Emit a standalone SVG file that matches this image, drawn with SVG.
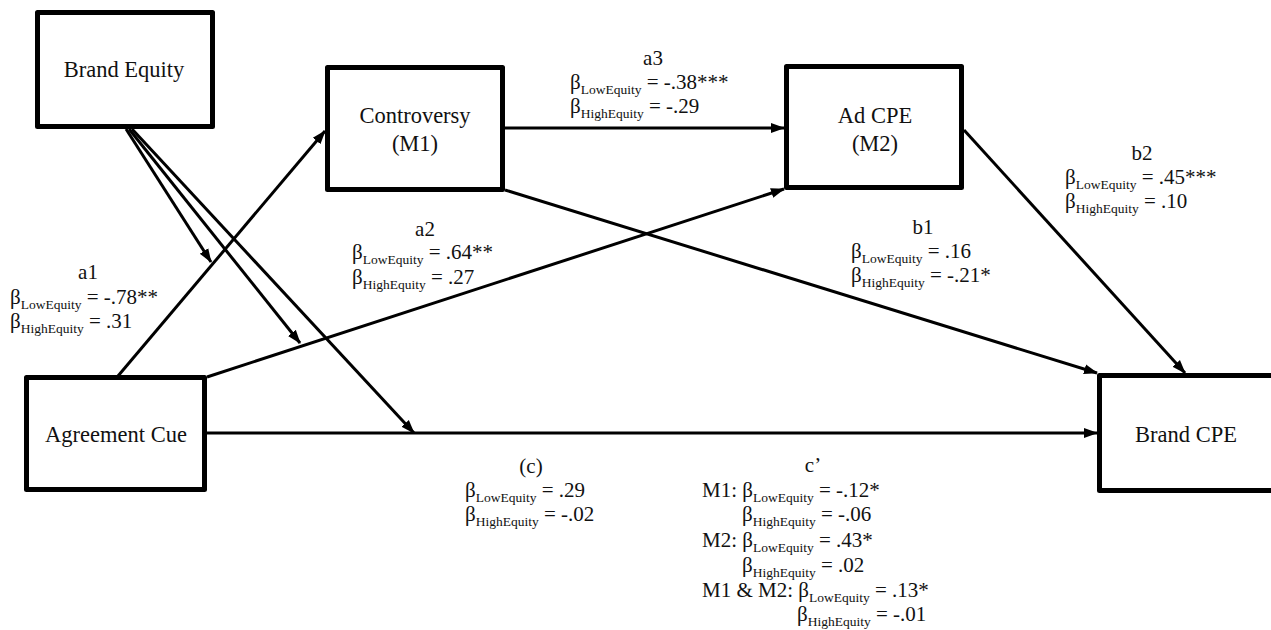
<svg xmlns="http://www.w3.org/2000/svg" width="1271" height="630" viewBox="0 0 1271 630">
<defs>
<marker id="arr" markerUnits="userSpaceOnUse" markerWidth="14" markerHeight="12" viewBox="0 0 14 12" refX="13" refY="6" orient="auto">
<path d="M0,1 L14,6 L0,11 z" fill="#000"/>
</marker>
<style>
.box{fill:#fff;stroke:#000;stroke-width:5;stroke-linejoin:round}
.bt{font-family:"Liberation Serif","Times New Roman",serif;font-size:22.5px;fill:#111;text-anchor:middle}
.con line{stroke:#000;stroke-width:3;marker-end:url(#arr)}
.lb{font-family:"Liberation Serif","Times New Roman",serif;font-size:21px;fill:#111}
.tt{text-anchor:middle}
.s{font-size:13.5px}
</style>
</defs>
<rect width="1271" height="630" fill="#fff"/>
<g class="con" id="connectors">
<line x1="118" y1="376" x2="325" y2="131"/>
<line x1="207" y1="377" x2="784" y2="189"/>
<line x1="505" y1="128" x2="784" y2="128"/>
<line x1="505" y1="190" x2="1097" y2="373"/>
<line x1="964" y1="130" x2="1185" y2="373"/>
<line x1="207" y1="433" x2="1097" y2="433"/>
<line x1="126" y1="129" x2="211" y2="262"/>
<line x1="129" y1="129" x2="300" y2="343"/>
<line x1="132" y1="129" x2="414" y2="433"/>
</g>
<g id="brand-equity">
<rect class="box" x="37.5" y="12.5" width="175" height="114"/>
<text class="bt" x="124" y="77">Brand Equity</text>
</g>
<g id="controversy">
<rect class="box" x="327.5" y="67.5" width="175" height="122"/>
<text class="bt" x="415" y="123">Controversy</text>
<text class="bt" x="415" y="151">(M1)</text>
</g>
<g id="ad-cpe">
<rect class="box" x="786.5" y="66.5" width="175" height="121"/>
<text class="bt" x="875" y="123">Ad CPE</text>
<text class="bt" x="875" y="151">(M2)</text>
</g>
<g id="agreement-cue">
<rect class="box" x="26.5" y="377.5" width="178" height="112"/>
<text class="bt" x="116" y="442">Agreement Cue</text>
</g>
<g id="brand-cpe">
<rect class="box" x="1099.5" y="375.5" width="200" height="115"/>
<text class="bt" x="1186" y="442">Brand CPE</text>
</g>
<g id="labels" class="lb">
<text class="tt" x="88" y="279">a1</text>
<text x="10" y="304">β<tspan class="s" dy="5">LowEquity</tspan><tspan dy="-5"> = -.78**</tspan></text>
<text x="10" y="328">β<tspan class="s" dy="5">HighEquity</tspan><tspan dy="-5"> = .31</tspan></text>

<text class="tt" x="425" y="236">a2</text>
<text x="352" y="259">β<tspan class="s" dy="5">LowEquity</tspan><tspan dy="-5"> = .64**</tspan></text>
<text x="352" y="284">β<tspan class="s" dy="5">HighEquity</tspan><tspan dy="-5"> = .27</tspan></text>

<text class="tt" x="653" y="65">a3</text>
<text x="570" y="89">β<tspan class="s" dy="5">LowEquity</tspan><tspan dy="-5"> = -.38***</tspan></text>
<text x="570" y="113">β<tspan class="s" dy="5">HighEquity</tspan><tspan dy="-5"> = -.29</tspan></text>

<text class="tt" x="923" y="234">b1</text>
<text x="851" y="258">β<tspan class="s" dy="5">LowEquity</tspan><tspan dy="-5"> = .16</tspan></text>
<text x="851" y="282">β<tspan class="s" dy="5">HighEquity</tspan><tspan dy="-5"> = -.21*</tspan></text>

<text class="tt" x="1142" y="160">b2</text>
<text x="1065" y="184">β<tspan class="s" dy="5">LowEquity</tspan><tspan dy="-5"> = .45***</tspan></text>
<text x="1065" y="208">β<tspan class="s" dy="5">HighEquity</tspan><tspan dy="-5"> = .10</tspan></text>

<text class="tt" x="531" y="473">(c)</text>
<text x="465" y="497">β<tspan class="s" dy="5">LowEquity</tspan><tspan dy="-5"> = .29</tspan></text>
<text x="465" y="521">β<tspan class="s" dy="5">HighEquity</tspan><tspan dy="-5"> = -.02</tspan></text>

<text class="tt" x="813" y="472">c’</text>
<text x="702" y="497">M1: β<tspan class="s" dy="5">LowEquity</tspan><tspan dy="-5"> = -.12*</tspan></text>
<text x="742" y="521">β<tspan class="s" dy="5">HighEquity</tspan><tspan dy="-5"> = -.06</tspan></text>
<text x="702" y="547">M2: β<tspan class="s" dy="5">LowEquity</tspan><tspan dy="-5"> = .43*</tspan></text>
<text x="742" y="572">β<tspan class="s" dy="5">HighEquity</tspan><tspan dy="-5"> = .02</tspan></text>
<text x="702" y="597">M1 &amp; M2: β<tspan class="s" dy="5">LowEquity</tspan><tspan dy="-5"> = .13*</tspan></text>
<text x="797" y="621">β<tspan class="s" dy="5">HighEquity</tspan><tspan dy="-5"> = -.01</tspan></text>
</g>
</svg>
